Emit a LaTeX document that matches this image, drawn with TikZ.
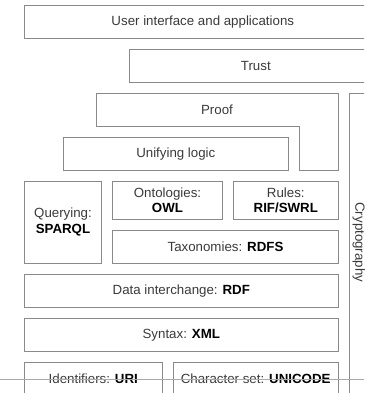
\documentclass[tikz,border=0pt]{standalone}
\usepackage{fontspec}
\setmainfont{Liberation Sans}
\definecolor{boxline}{HTML}{8A8A8A}
\definecolor{txt}{HTML}{3A3A3A}
\definecolor{guideorange}{RGB}{232,170,0}
\begin{document}
\begin{tikzpicture}[x=1pt,y=-1pt,
  layer/.style={draw=boxline,line width=0.9pt,inner sep=0pt,text=txt,
    font=\fontsize{13.3}{15.6}\selectfont,align=center},
  guide/.style={draw=guideorange,line width=1.5pt}]
\useasboundingbox (0,0) rectangle (364,393);
\clip (0,0) rectangle (364,393);
\node[layer,minimum width=357pt,minimum height=33.3pt] (ui) at (202.8,21.65) {User interface and applications};
\node[layer,minimum width=253pt,minimum height=32.7pt] (trust) at (255.8,65.65) {Trust};
\draw[draw=boxline,line width=0.9pt] (96,93.3) -- (338.3,93.3) -- (338.3,170) -- (299.3,170) -- (299.3,126) -- (96,126) -- cycle;
\node[text=txt,font=\fontsize{13.3}{15.6}\selectfont] (proof) at (217,109.6) {Proof};
\node[layer,minimum width=225pt,minimum height=32.7pt] (logic) at (175.8,153.65) {Unifying logic};
\node[layer,minimum width=77.4pt,minimum height=82.3pt] (query) at (63,222.15) {Querying:\\\textcolor{black}{\bfseries SPARQL}};
\node[layer,minimum width=109.6pt,minimum height=38.3pt] (onto) at (167.5,200.15) {Ontologies:\\\textcolor{black}{\bfseries OWL}};
\node[layer,minimum width=105pt,minimum height=38.3pt] (rules) at (285.8,200.15) {Rules:\\\textcolor{black}{\bfseries RIF/SWRL}};
\node[layer,minimum width=225.6pt,minimum height=32.6pt] (tax) at (225.5,247) {Taxonomies: \textcolor{black}{\bfseries RDFS}};
\node[layer,minimum width=314pt,minimum height=33pt] (rdf) at (181.3,291.2) {Data interchange: \textcolor{black}{\bfseries RDF}};
\node[layer,minimum width=314pt,minimum height=33pt] (xml) at (181.3,335.2) {Syntax: \textcolor{black}{\bfseries XML}};
\node[layer,minimum width=138pt,minimum height=33pt] (uri) at (93.3,378.8) {Identifiers: \textcolor{black}{\bfseries URI}};
\node[layer,minimum width=165.3pt,minimum height=33pt] (uni) at (255.65,378.8) {Character set: \textcolor{black}{\bfseries UNICODE}};
\draw[draw=boxline,line width=0.9pt] (349,93.3) rectangle (376,410);
\node[text=txt,font=\fontsize{13.3}{15.6}\selectfont,rotate=-90,anchor=base,inner sep=0pt] (crypto) at (355.3,242.3) {Cryptography};
\coordinate (gl) at (0,379.5);
\coordinate (gr) at (364,379.5);
\draw[guide] (gl) -- (gr);
\end{tikzpicture}
\end{document}
